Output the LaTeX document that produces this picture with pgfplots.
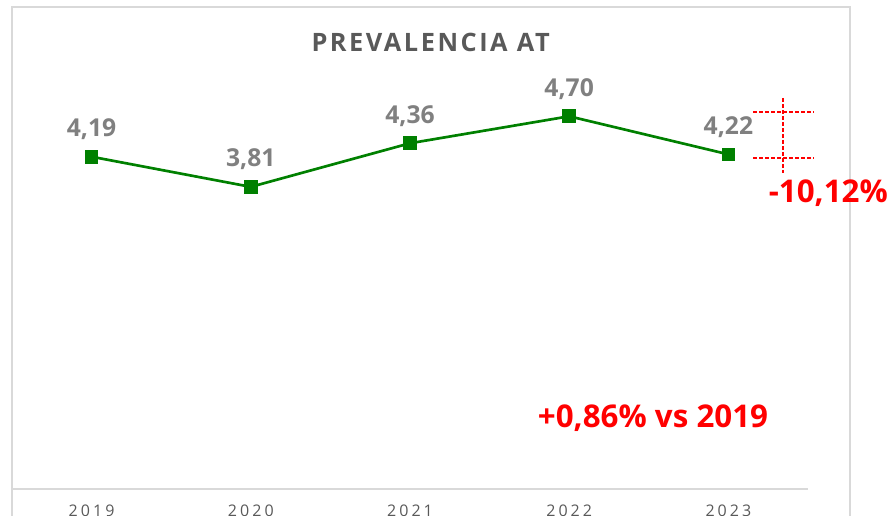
\documentclass[border=0pt]{standalone}
\usepackage{fontspec}
\setmainfont{Open Sans}
\usepackage{pgfplots}
\pgfplotsset{compat=1.18}
\definecolor{cLine}{RGB}{0,128,0}
\definecolor{cLabel}{RGB}{128,128,128}
\definecolor{cTitle}{RGB}{89,89,89}
\definecolor{cFrame}{RGB}{217,217,217}
\definecolor{cRed}{RGB}{255,0,0}
\newfontfamily\titlefont[LetterSpace=10]{Open Sans}
\newfontfamily\yearfont[LetterSpace=19]{Open Sans}

\begin{document}
\begin{tikzpicture}
\path[use as bounding box, clip] (0,0) rectangle (670.5pt,386.25pt);
% outer frame
\draw[cFrame, line width=1.2pt] (9pt,-5pt) -- (9pt,381pt) -- (637.5pt,381pt) -- (637.5pt,-5pt);
\begin{axis}[
  at={(9pt,19.5pt)}, anchor=south west,
  scale only axis, width=597pt, height=356.85pt,
  xmin=-0.5, xmax=4.5, ymin=0, ymax=6,
  axis x line*=bottom, axis y line=none,
  x axis line style={cFrame, line width=1.2pt, -},
  xtick={0,1,2,3,4}, xticklabels={2019,2020,2021,2022,2023},
  major tick length=0pt,
  xticklabel style={font=\yearfont\fontsize{12}{14}\selectfont, text=cTitle, anchor=base, yshift=-20.5pt},
  clip=false,
  nodes near coords, point meta=explicit symbolic,
  every node near coord/.append style={font=\bfseries\fontsize{18.5}{21}\selectfont, text=cLabel, anchor=base, yshift=15pt, inner sep=0pt},
]
\addplot[cLine, line width=2pt, mark=square*, mark size=4.1pt, mark options={solid, fill=cLine}]
  coordinates {(0,4.19) [4,19] (1,3.81) [3,81] (2,4.36) [4,36] (3,4.70) [4,70] (4,4.22) [4,22]};
\end{axis}
% title
\node[anchor=base, inner sep=0pt, text=cTitle, font=\titlefont\bfseries\fontsize{19}{21}\selectfont] at (323pt,347.25pt) {PREVALENCIA AT};
% variation markers
\draw[cRed, line width=1.1pt, dash pattern=on 3pt off 1.5pt] (564.75pt,302.25pt) -- (610.5pt,302.25pt);
\draw[cRed, line width=1.1pt, dash pattern=on 3pt off 1.5pt] (564.75pt,267.75pt) -- (610.5pt,267.75pt);
\draw[cRed, line width=1.1pt, dash pattern=on 3pt off 1.5pt] (587.25pt,312.75pt) -- (587.25pt,256.5pt);
\node[anchor=base east, inner sep=0pt, text=cRed, font=\bfseries\fontsize{23.5}{26}\selectfont] at (666pt,234pt) {-10,12\%};
\node[anchor=base, inner sep=0pt, text=cRed, font=\bfseries\fontsize{23.5}{26}\selectfont] at (489.75pt,66pt) {+0,86\% vs 2019};
\end{tikzpicture}
\end{document}
